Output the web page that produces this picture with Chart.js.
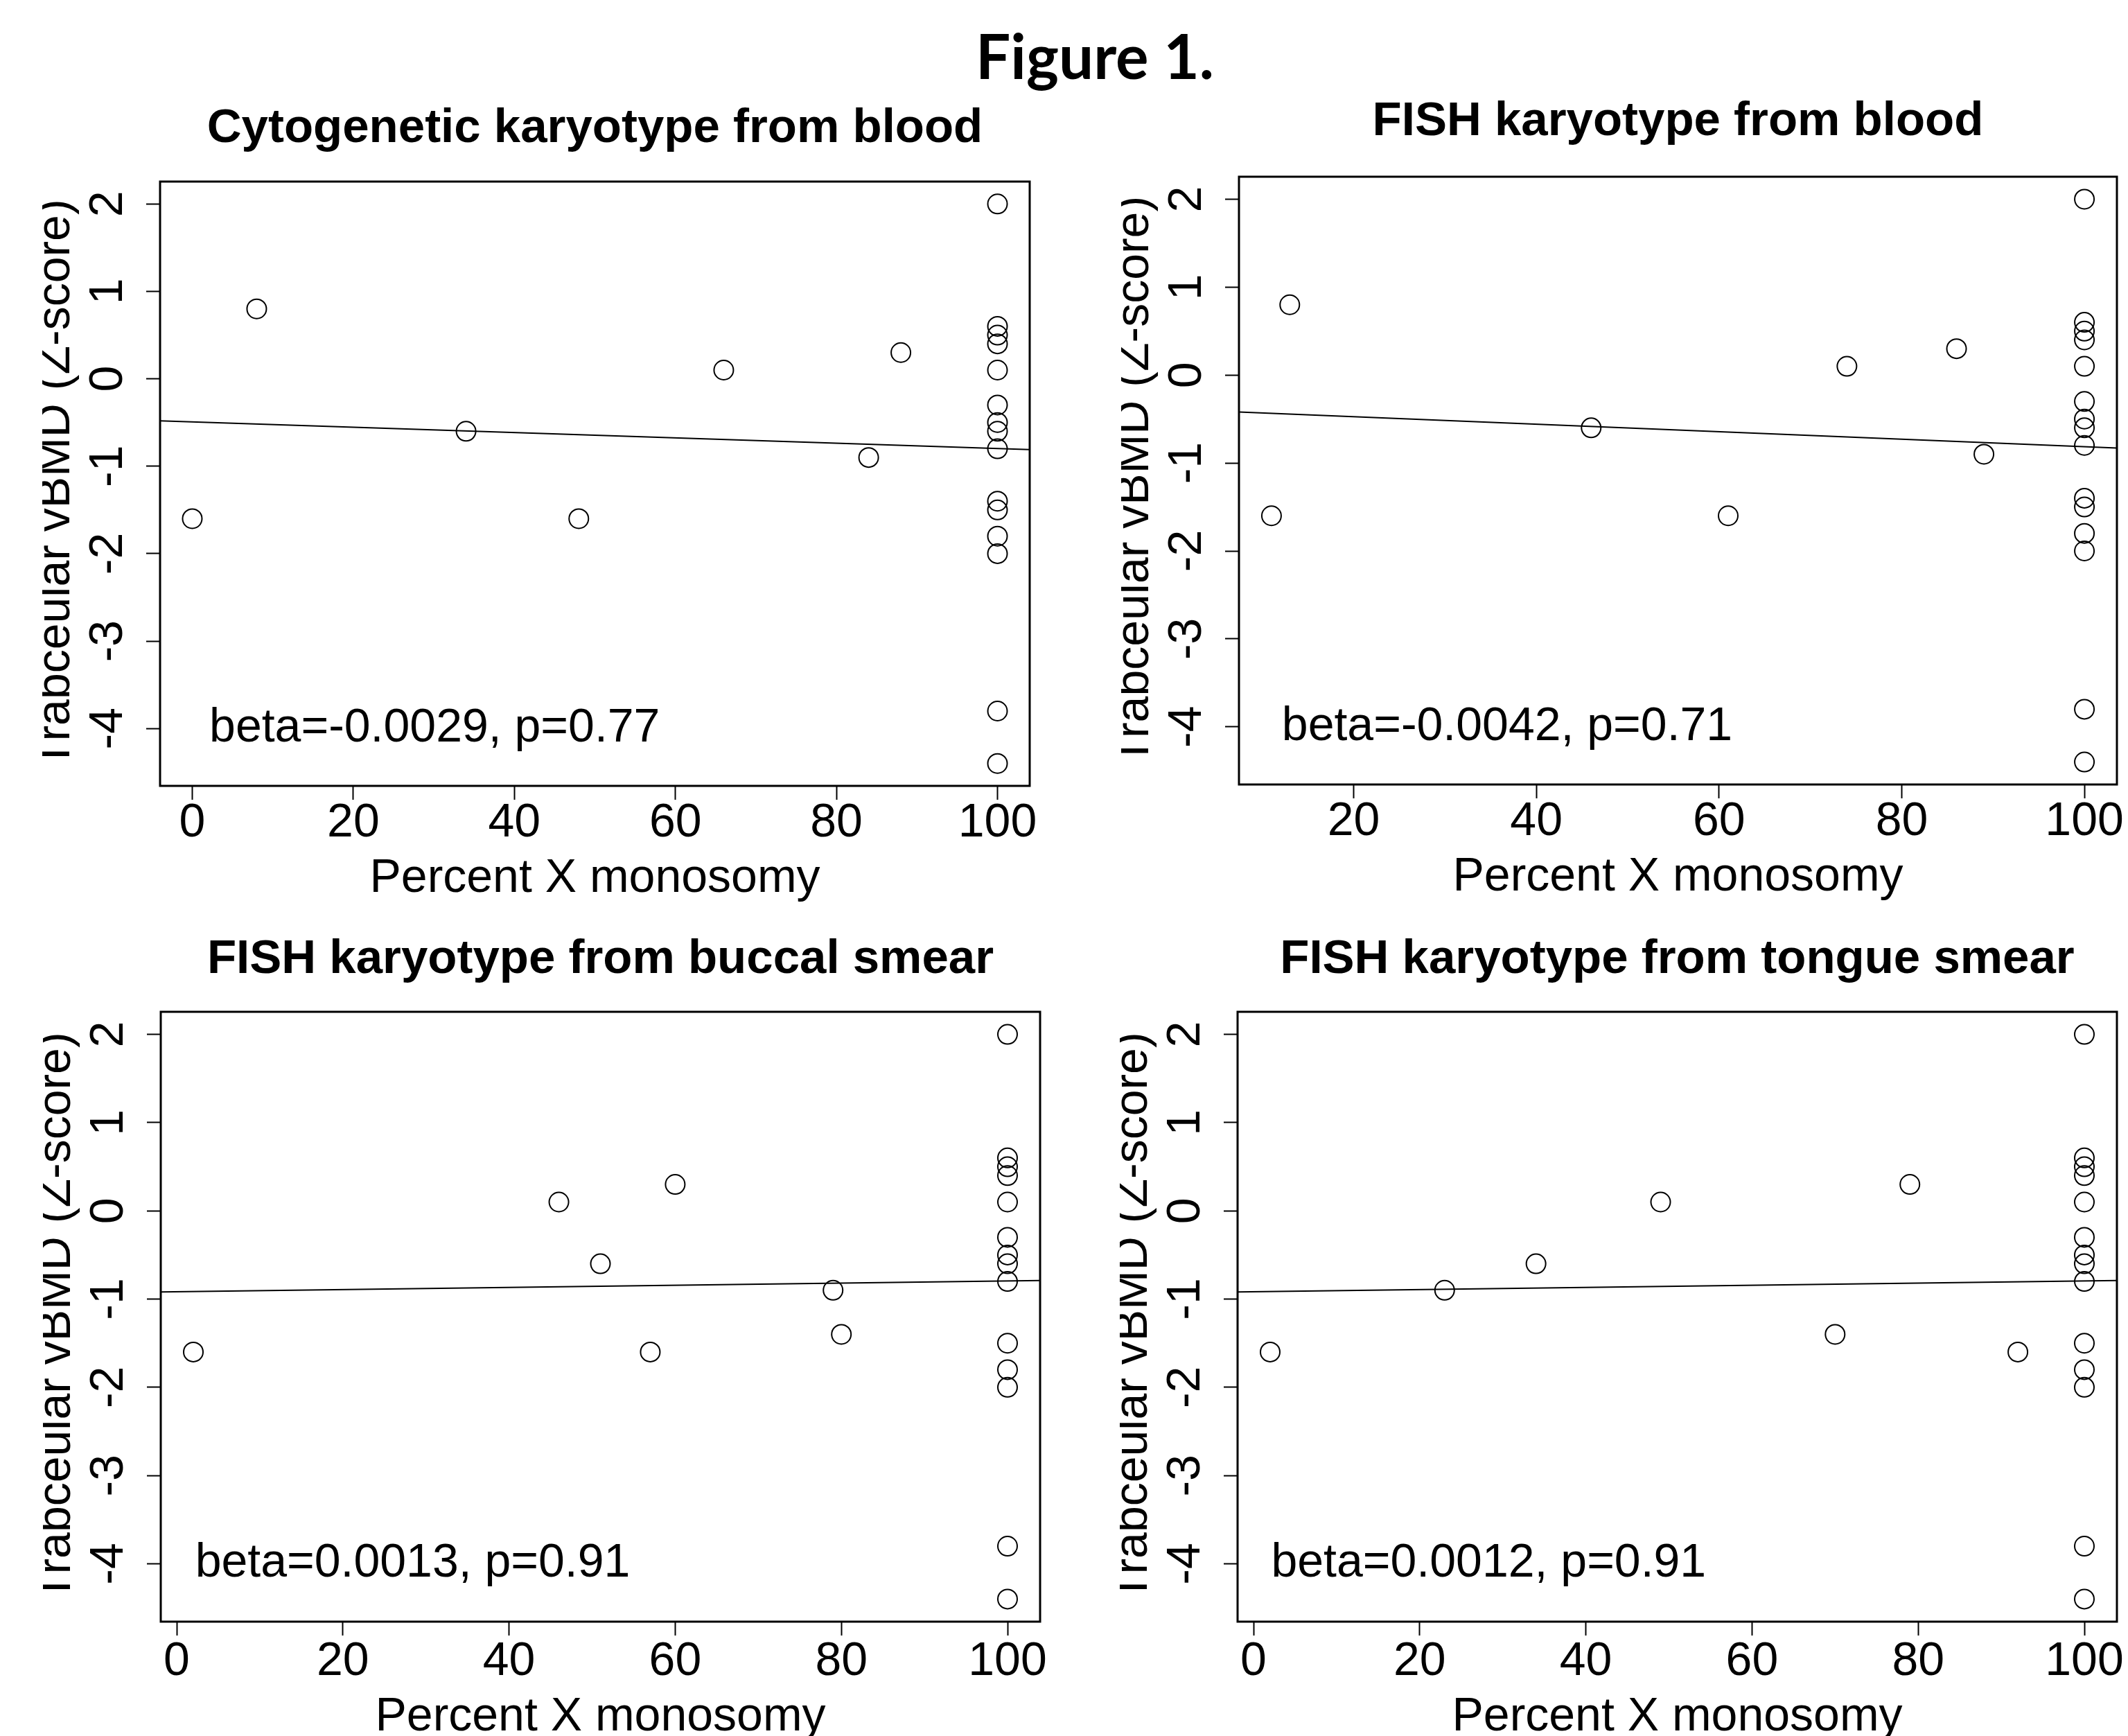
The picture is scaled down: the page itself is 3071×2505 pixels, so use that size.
<!DOCTYPE html>
<html>
<head>
<meta charset="utf-8">
<title>Figure 1</title>
<script src="https://cdn.jsdelivr.net/npm/chart.js@4.4.1/dist/chart.umd.min.js"></script>
<style>
  html, body { margin: 0; padding: 0; background: #fff; overflow: hidden; }
  body { width: 3071px; height: 2505px; position: relative; }
  #figTitle { position: absolute; left: 1380px; width: 400px; top: 35px; text-align: center;
              font-family: Lato, "Open Sans", sans-serif; font-weight: bold; font-size: 89px; line-height: 1; color: #000; }
  canvas { position: absolute; }
</style>
</head>
<body>
<div id="figTitle">Figure 1.</div>
<canvas id="p0"></canvas>
<canvas id="p1"></canvas>
<canvas id="p2"></canvas>
<canvas id="p3"></canvas>
<script>
// ---- data ----
const panelTitles = [
  'Cytogenetic karyotype from blood',
  'FISH karyotype from blood',
  'FISH karyotype from buccal smear',
  'FISH karyotype from tongue smear'
];
const xAxisTitle = 'Percent X monosomy';
const yAxisTitle = 'Trabceular vBMD (Z-score)';
const xTickValues = [0, 20, 40, 60, 80, 100];
const yTickValues = [-4, -3, -2, -1, 0, 1, 2];
const betaLabels = [
  'beta=-0.0029, p=0.77',
  'beta=-0.0042, p=0.71',
  'beta=0.0013, p=0.91',
  'beta=0.0012, p=0.91'
];

const cytoBloodX = [0, 8, 34, 48, 66, 84, 88, 100, 100, 100, 100, 100, 100, 100, 100, 100, 100, 100, 100, 100, 100, 100];
const cytoBloodY = [-1.6, 0.8, -0.6, -1.6, 0.1, -0.9, 0.3, 2.0, 0.6, 0.5, 0.4, 0.1, -0.3, -0.5, -0.6, -0.8, -1.4, -1.5, -1.8, -2.0, -3.8, -4.4];

const fishBloodX = [11, 13, 46, 61, 74, 86, 89, 100, 100, 100, 100, 100, 100, 100, 100, 100, 100, 100, 100, 100, 100, 100];
const fishBloodY = [-1.6, 0.8, -0.6, -1.6, 0.1, 0.3, -0.9, 2.0, 0.6, 0.5, 0.4, 0.1, -0.3, -0.5, -0.6, -0.8, -1.4, -1.5, -1.8, -2.0, -3.8, -4.4];

const buccalX = [2, 46, 51, 57, 60, 79, 80, 100, 100, 100, 100, 100, 100, 100, 100, 100, 100, 100, 100, 100, 100];
const buccalY = [-1.6, 0.1, -0.6, -1.6, 0.3, -0.9, -1.4, 2.0, 0.6, 0.5, 0.4, 0.1, -0.3, -0.5, -0.6, -0.8, -1.5, -1.8, -2.0, -3.8, -4.4];

const tongueX = [2, 23, 34, 49, 70, 79, 92, 100, 100, 100, 100, 100, 100, 100, 100, 100, 100, 100, 100, 100, 100];
const tongueY = [-1.6, -0.9, -0.6, 0.1, -1.4, 0.3, -1.6, 2.0, 0.6, 0.5, 0.4, 0.1, -0.3, -0.5, -0.6, -0.8, -1.5, -1.8, -2.0, -3.8, -4.4];

// fitted line, value at the left and right edge of each plot
const fitLeftY = [-0.48, -0.42, -0.92, -0.92];
const fitRightY = [-0.81, -0.83, -0.79, -0.79];

// where the beta text sits (data units)
const noteX = [30.1, 36.8, 28.4, 28.3];
const noteY = -4;

const seriesX = [cytoBloodX, fishBloodX, buccalX, tongueX];
const seriesY = [cytoBloodY, fishBloodY, buccalY, tongueY];

// ---- layout (pixels on the page) ----
const frames = [
  {L: 231, R: 1486, T: 262, B: 1134, titleGap: 76, tickPad: 0, xTitleGap: 134},
  {L: 1788, R: 3055, T: 255, B: 1132, titleGap: 79, tickPad: 0, xTitleGap: 134},
  {L: 232, R: 1501, T: 1460, B: 2340, titleGap: 75, tickPad: 4, xTitleGap: 138},
  {L: 1786, R: 3055, T: 1460, B: 2340, titleGap: 75, tickPad: 4, xTitleGap: 138}
];
const LEFT_SPACE = 170, RIGHT_SPACE = 20, BOTTOM_SPACE = 175;
const FONT = '"Liberation Sans", Arial, sans-serif';
const FS = 68;
const TITLE_FS = 69;

Chart.defaults.color = '#000';
Chart.defaults.font.family = FONT;

// R style: axis range padded by 4%
function padRange(vals) {
  const lo = Math.min(...vals), hi = Math.max(...vals);
  const d = (hi - lo) * 0.04;
  return [lo - d, hi + d];
}

const boxPlugin = {
  id: 'box',
  afterDatasetsDraw(chart) {
    const {ctx, chartArea: a} = chart;
    ctx.save();
    ctx.strokeStyle = '#000';
    ctx.lineWidth = 3;
    ctx.strokeRect(a.left, a.top, a.right - a.left, a.bottom - a.top);
    ctx.restore();
  }
};

const notePlugin = {
  id: 'betaNote',
  afterDatasetsDraw(chart, args, opts) {
    const {ctx, scales} = chart;
    ctx.save();
    ctx.font = FS + 'px ' + FONT;
    ctx.fillStyle = '#000';
    ctx.textAlign = 'center';
    ctx.textBaseline = 'middle';
    ctx.fillText(opts.text, scales.x.getPixelForValue(opts.x), scales.y.getPixelForValue(opts.y));
    ctx.restore();
  }
};

function makePanel(i) {
  const f = frames[i];
  const cv = document.getElementById('p' + i);
  const left = f.L - LEFT_SPACE;
  const top = Math.round(f.T - f.titleGap - TITLE_FS * 1.2 / 2);
  cv.width = f.R + RIGHT_SPACE - left;
  cv.height = f.B + BOTTOM_SPACE - top;
  cv.style.left = left + 'px';
  cv.style.top = top + 'px';

  const xr = padRange(seriesX[i]);
  const allY = seriesY[0].concat(seriesY[1], seriesY[2], seriesY[3]);
  const yr = padRange(allY);
  const pts = seriesX[i].map((x, k) => ({x: x, y: seriesY[i][k]}));

  const tickGrid = {drawOnChartArea: false, drawTicks: true, tickLength: 20, tickWidth: 2, tickColor: '#000'};

  new Chart(cv, {
    data: {
      datasets: [
        {
          type: 'scatter',
          data: pts,
          pointStyle: 'circle',
          pointRadius: 14,
          borderWidth: 2,
          borderColor: '#000',
          backgroundColor: 'rgba(0,0,0,0)'
        },
        {
          type: 'line',
          data: [{x: xr[0], y: fitLeftY[i]}, {x: xr[1], y: fitRightY[i]}],
          borderColor: '#000',
          borderWidth: 2,
          pointRadius: 0,
          fill: false
        }
      ]
    },
    options: {
      responsive: false,
      animation: false,
      events: [],
      layout: {padding: {left: 0, right: RIGHT_SPACE, top: 0, bottom: 0}},
      plugins: {
        legend: {display: false},
        tooltip: {enabled: false},
        title: {
          display: true,
          text: panelTitles[i],
          fullSize: false,
          color: '#000',
          font: {family: FONT, size: TITLE_FS, weight: 'bold', lineHeight: 1.2},
          padding: {top: 0, bottom: f.T - top - TITLE_FS * 1.2}
        },
        betaNote: {text: betaLabels[i], x: noteX[i], y: noteY}
      },
      scales: {
        x: {
          type: 'linear',
          min: xr[0],
          max: xr[1],
          afterBuildTicks: s => { s.ticks = xTickValues.filter(v => v >= xr[0] && v <= xr[1]).map(v => ({value: v})); },
          afterFit: s => { s.height = BOTTOM_SPACE; },
          grid: tickGrid,
          border: {display: false},
          ticks: {font: {family: FONT, size: FS, lineHeight: 1}, padding: f.tickPad, maxRotation: 0, color: '#000'},
          title: {
            display: true, text: xAxisTitle, color: '#000',
            font: {family: FONT, size: FS, lineHeight: 1.2},
            padding: {top: 0, bottom: BOTTOM_SPACE - f.xTitleGap - FS * 0.6}
          }
        },
        y: {
          type: 'linear',
          min: yr[0],
          max: yr[1],
          afterBuildTicks: s => { s.ticks = yTickValues.map(v => ({value: v})); },
          afterFit: s => { s.width = LEFT_SPACE; },
          grid: tickGrid,
          border: {display: false},
          ticks: {font: {family: FONT, size: FS, lineHeight: 1}, padding: 24, minRotation: 90, maxRotation: 90, crossAlign: 'center', color: '#000'},
          title: {
            display: true, text: yAxisTitle, color: '#000',
            font: {family: FONT, size: FS, lineHeight: 1.2},
            padding: {top: 20 - FS * 0.6, bottom: 0}
          }
        }
      }
    },
    plugins: [boxPlugin, notePlugin]
  });
}

for (let i = 0; i < 4; i++) makePanel(i);
</script>
</body>
</html>
